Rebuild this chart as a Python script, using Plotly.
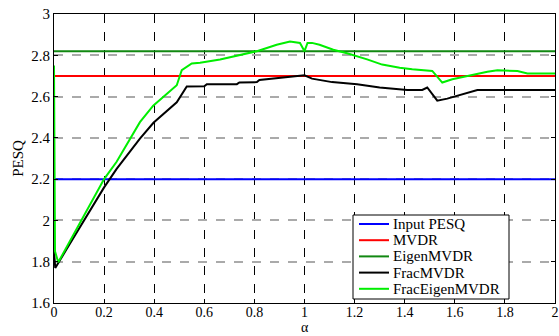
import plotly.graph_objects as go

alpha_range = [0, 2]
series_names = ["Input PESQ", "MVDR", "EigenMVDR", "FracMVDR", "FracEigenMVDR"]
series_colors = ["#0000ff", "#ff0000", "#118811", "#000000", "#00ee00"]
input_pesq = 2.2
mvdr = 2.7
eigen_mvdr = 2.82

frac_x = [0, 0.005, 0.05, 0.1, 0.15, 0.2, 0.25, 0.3, 0.343, 0.397, 0.44, 0.49, 0.53, 0.6, 0.61,
          0.73, 0.74, 0.81, 0.82, 0.9, 0.95, 1.0, 1.03, 1.11, 1.21, 1.3, 1.41, 1.47, 1.49, 1.53,
          1.57, 1.61, 1.65, 1.69, 2.0]
frac_y = [1.85, 1.77, 1.86, 1.96, 2.06, 2.16, 2.25, 2.33, 2.396, 2.473, 2.52, 2.572, 2.649, 2.65, 2.66,
          2.66, 2.668, 2.67, 2.68, 2.69, 2.695, 2.703, 2.687, 2.67, 2.66, 2.644, 2.632, 2.632, 2.644, 2.58,
          2.59, 2.604, 2.615, 2.632, 2.632]

fe_x = [0, 0.004, 0.017, 0.05, 0.1, 0.15, 0.2, 0.25, 0.3, 0.343, 0.396, 0.45, 0.49, 0.51, 0.55, 0.583,
        0.663, 0.81, 0.889, 0.942, 0.982, 1.0, 1.012, 1.03, 1.06, 1.115, 1.17, 1.25, 1.31, 1.38, 1.43,
        1.51, 1.55, 1.59, 1.65, 1.73, 1.77, 1.85, 1.89, 2.0]
fe_y = [2.75, 1.85, 1.797, 1.87, 1.98, 2.09, 2.2, 2.284, 2.39, 2.476, 2.556, 2.612, 2.655, 2.728, 2.76, 2.764,
        2.78, 2.82, 2.851, 2.867, 2.86, 2.82, 2.86, 2.86, 2.851, 2.827, 2.81, 2.78, 2.755, 2.74, 2.732,
        2.724, 2.668, 2.684, 2.70, 2.72, 2.727, 2.724, 2.712, 2.712]

x_ticks = [0, 0.2, 0.4, 0.6, 0.8, 1, 1.2, 1.4, 1.6, 1.8, 2]
y_ticks = [1.6, 1.8, 2, 2.2, 2.4, 2.6, 2.8, 3]
x_title = "α"
y_title = "PESQ"

font = "Liberation Serif, Times New Roman, serif"

W, H = 559, 336
ML, MR, MT, MB = 54, 4, 14, 33
PW, PH = W - ML - MR, H - MT - MB


def px(x):
    return (x - ML) / PW


def py(y):
    return (H - MB - y) / PH


fig = go.Figure()
xs_list = [alpha_range, alpha_range, alpha_range, frac_x, fe_x]
ys_list = [[input_pesq] * 2, [mvdr] * 2, [eigen_mvdr] * 2, frac_y, fe_y]
for name, color, xs, ys in zip(series_names, series_colors, xs_list, ys_list):
    fig.add_trace(go.Scatter(x=xs, y=ys, mode="lines", name=name,
                             line=dict(color=color, width=2), showlegend=False))

# manual legend (compact, like the original)
shapes = [dict(type="rect", xref="paper", yref="paper",
               x0=px(353), x1=px(509), y0=py(299), y1=py(215),
               line=dict(color="black", width=1), fillcolor="white", layer="above")]
annotations = []
for i, (name, color) in enumerate(zip(series_names, series_colors)):
    yrow = 224 + 16.2 * i
    shapes.append(dict(type="line", xref="paper", yref="paper",
                       x0=px(359), x1=px(389), y0=py(yrow), y1=py(yrow),
                       line=dict(color=color, width=2), layer="above"))
    annotations.append(dict(text=name, xref="paper", yref="paper",
                            x=px(391), y=py(yrow), xanchor="left", yanchor="middle",
                            showarrow=False, font=dict(family=font, size=15, color="black")))

# x-axis title placed as in the original
annotations.append(dict(text=x_title, xref="paper", yref="paper", x=0.5, y=py(336),
                        xanchor="center", yanchor="bottom", showarrow=False, borderpad=0,
                        font=dict(family=font, size=14, color="black")))

fig.update_layout(
    width=W, height=H,
    margin=dict(l=ML, r=MR, t=MT, b=MB),
    paper_bgcolor="white", plot_bgcolor="white",
    font=dict(family=font, size=15, color="black"),
    showlegend=False,
    shapes=shapes, annotations=annotations,
)
fig.update_xaxes(range=[0, 2], tickvals=x_ticks, ticktext=[str(v) for v in x_ticks],
                 showline=True, linecolor="black", linewidth=1, mirror="ticks",
                 ticks="inside", ticklen=4, tickcolor="black",
                 showgrid=True, gridcolor="#000000", griddash="dash", gridwidth=0.7,
                 zeroline=False, automargin=False, ticklabelstandoff=-4,
                 tickfont=dict(family=font, size=14))
fig.update_yaxes(range=[1.6, 3], tickvals=y_ticks, ticktext=[str(v) for v in y_ticks],
                 showline=True, linecolor="black", linewidth=1, mirror="ticks",
                 ticks="inside", ticklen=4, tickcolor="black",
                 showgrid=True, gridcolor="#aaaaaa", griddash="dash", gridwidth=1.5,
                 zeroline=False, automargin=False,
                 tickfont=dict(family=font, size=15),
                 title=dict(text=y_title, standoff=4, font=dict(family=font, size=15)))

fig.write_html("out.html", config={"displayModeBar": False},
               post_script="document.body.style.margin='0';document.body.style.overflow='hidden';")
